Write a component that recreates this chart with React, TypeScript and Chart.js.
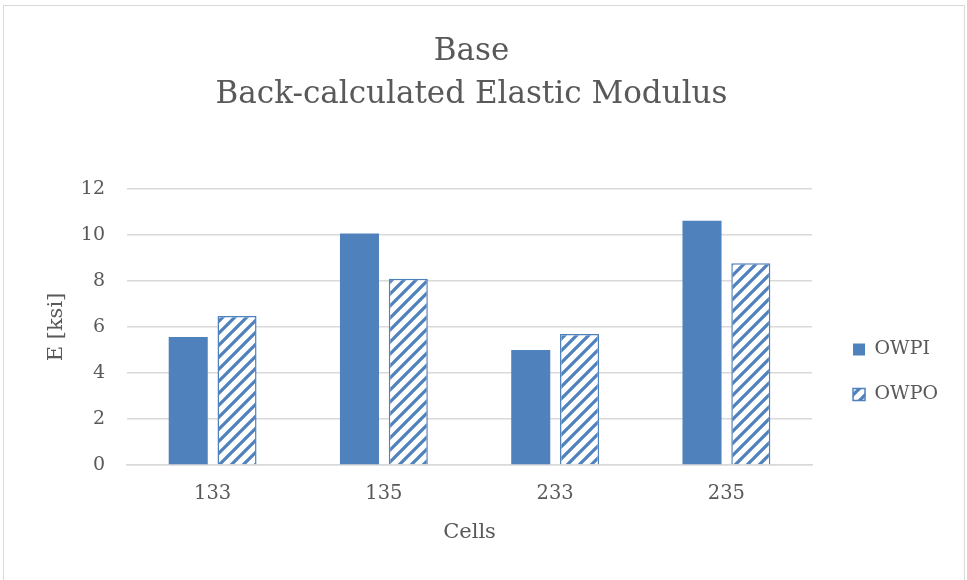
import React, { useEffect, useRef } from "react";
import { Chart, registerables } from "chart.js";

Chart.register(...registerables);

const categories = ["133", "135", "233", "235"];
const owpiValues = [5.57, 10.07, 5.0, 10.62];
const owpoValues = [6.48, 8.1, 5.7, 8.77];
const seriesNames = ["OWPI", "OWPO"];
const titleLines = ["Base", "Back-calculated Elastic Modulus"];
const yTitle = "E [ksi]";
const xTitle = "Cells";

const BLUE = "#4F81BD";
const TEXT = "#595959";
const GRID = "#d9d9d9";
const FONT = "'DejaVu Serif', serif";

function makeHatch(): CanvasPattern | string {
  const size = 12;
  const c = document.createElement("canvas");
  c.width = size;
  c.height = size;
  const ctx = c.getContext("2d");
  if (!ctx) return BLUE;
  ctx.fillStyle = "#ffffff";
  ctx.fillRect(0, 0, size, size);
  ctx.strokeStyle = BLUE;
  ctx.lineWidth = 3.2;
  ctx.beginPath();
  ctx.moveTo(-size, 2 * size);
  ctx.lineTo(2 * size, -size);
  ctx.moveTo(-size, size);
  ctx.lineTo(size, -size);
  ctx.moveTo(0, 2 * size);
  ctx.lineTo(2 * size, 0);
  ctx.stroke();
  return ctx.createPattern(c, "repeat") || BLUE;
}

const legendShift = {
  id: "legendShift",
  afterLayout(chart: any) {
    const l = chart.legend;
    if (!l) return;
    const dx = 15;
    const dy = 82;
    l.left += dx;
    l.right += dx;
    l.top += dy;
    l.bottom += dy;
  },
};

export default function App() {
  const ref = useRef<HTMLCanvasElement>(null);
  useEffect(() => {
    document.body.style.margin = "0";
    if (!ref.current) return;
    const hatch = makeHatch();
    const chart = new Chart(ref.current, {
      type: "bar",
      data: {
        labels: categories,
        datasets: [
          {
            label: seriesNames[0],
            data: owpiValues,
            backgroundColor: BLUE,
            borderWidth: 0,
            categoryPercentage: 0.57,
            barPercentage: 0.8,
          },
          {
            label: seriesNames[1],
            data: owpoValues,
            backgroundColor: hatch as any,
            borderColor: BLUE,
            borderWidth: 1.5,
            categoryPercentage: 0.57,
            barPercentage: 0.8,
          },
        ],
      },
      plugins: [legendShift],
      options: {
        animation: false,
        responsive: false,
        maintainAspectRatio: false,
        layout: { padding: { top: 20, left: 10, right: 34, bottom: 20 } },
        plugins: {
          title: {
            display: true,
            text: titleLines,
            color: TEXT,
            font: { family: FONT, size: 31, weight: "normal", lineHeight: 1.387 },
            padding: { top: 10.5, bottom: 72.5 },
          },
          legend: {
            position: "right",
            labels: {
              color: TEXT,
              font: { family: FONT, size: 19 },
              boxWidth: 12,
              boxHeight: 12,
              padding: 26,
            },
          },
          tooltip: { enabled: false },
        },
        scales: {
          x: {
            afterFit(scale: any) {
              scale.height = 580 - 20 - 465;
            },
            grid: { display: false, drawTicks: false },
            border: { display: true, color: GRID, width: 1.5 },
            ticks: { color: TEXT, font: { family: FONT, size: 19.5 }, padding: 17 },
            title: {
              display: true,
              text: xTitle,
              color: TEXT,
              font: { family: FONT, size: 21 },
              padding: { top: 0, bottom: 14.4 },
            },
          },
          y: {
            min: 0,
            max: 12,
            afterFit(scale: any) {
              scale.width = 127 - 10;
            },
            ticks: {
              stepSize: 2,
              color: TEXT,
              font: { family: FONT, size: 19 },
              padding: 22,
            },
            grid: { color: GRID, lineWidth: 1.5, drawTicks: false },
            border: { display: false },
            title: {
              display: true,
              text: yTitle,
              color: TEXT,
              font: { family: FONT, size: 21 },
              padding: { top: 34.4, bottom: 0 },
            },
          },
        },
      },
    });
    return () => chart.destroy();
  }, []);
  return (
    <div style={{ position: "relative", width: 967, height: 580, background: "#fff", overflow: "hidden" }}>
      <div
        style={{
          position: "absolute",
          left: 3,
          top: 5,
          width: 962,
          height: 600,
          border: "1px solid #d9d9d9",
          boxSizing: "border-box",
        }}
      />
      <canvas ref={ref} width={967} height={580} style={{ position: "absolute", left: 0, top: 0 }} />
    </div>
  );
}
